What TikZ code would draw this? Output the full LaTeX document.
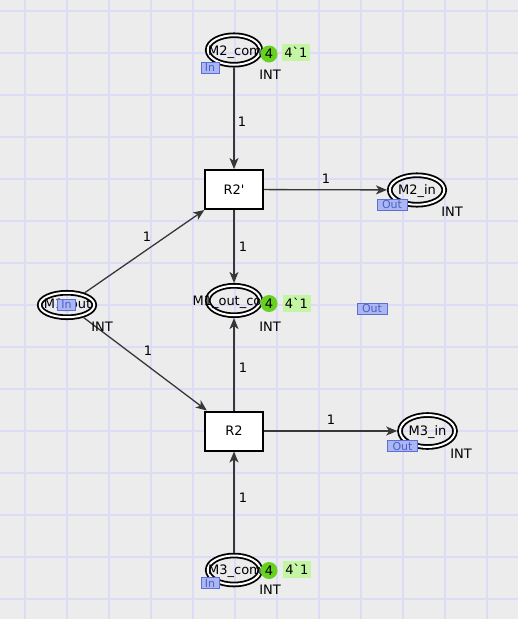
\documentclass[tikz,border=0pt]{standalone}
\usepackage{fontspec}
\setmainfont{DejaVu Sans}[Ligatures=TeXOff]
\usetikzlibrary{shapes.geometric,arrows.meta}
\definecolor{bgcol}{RGB}{236,236,236}
\definecolor{gridcol}{RGB}{220,220,246}
\definecolor{arccol}{RGB}{55,55,55}
\definecolor{tagfill}{RGB}{172,182,242}
\definecolor{tagdraw}{RGB}{90,112,216}
\definecolor{tagtext}{RGB}{74,96,200}
\definecolor{tokgreen}{RGB}{102,209,31}
\definecolor{markgreen}{RGB}{196,245,164}
\tikzset{
  gridline/.style={gridcol, line width=2pt},
  place/.style={ellipse, draw=black, line width=1.8pt, double=white, double distance=2pt,
    inner sep=0pt, outer sep=2.8pt},
  trans/.style={rectangle, draw=black, line width=2pt, fill=white, minimum width=58pt,
    minimum height=39pt, inner sep=0pt},
  arc/.style={arccol, line width=1.3pt, -{Stealth[length=11pt,width=9pt,inset=3pt]}},
  arclabel/.style={inner sep=0pt, text=black},
  ptag/.style={rectangle, draw=tagdraw, fill=tagfill, text=tagtext, line width=0.9pt,
    inner sep=0pt, minimum height=11pt, font=\fontsize{11}{12}\selectfont},
  token/.style={circle, fill=tokgreen, minimum size=17pt, inner sep=0pt},
  marking/.style={rectangle, fill=markgreen, minimum height=17pt, minimum width=28pt, inner sep=0pt},
  typelabel/.style={inner sep=0pt, text=black},
  namelabel/.style={inner sep=0pt, text=black},
}
\begin{document}
\begin{tikzpicture}[x=1pt, y=-1pt, font=\fontsize{13}{15}\selectfont]
  % background and grid
  \fill[bgcol] (0,0) rectangle (518,619);
  \useasboundingbox (0,0) rectangle (518,619);
  \foreach \i in {0,...,11} \draw[gridline] ({25+42*\i},0) -- ({25+42*\i},619);
  \foreach \j in {0,...,14} \draw[gridline] (0,{10.7+42*\j}) -- (518,{10.7+42*\j});

  % places
  \node[place, minimum width=52.5pt, minimum height=29.5pt] (M2com) at (234,50) {};
  \node[place, minimum width=54.5pt, minimum height=29.5pt] (M2in) at (417,190) {};
  \node[place, minimum width=54.5pt, minimum height=24.5pt] (M1out) at (67,305) {};
  \node[place, minimum width=52.5pt, minimum height=29.5pt] (M1conf) at (234,300.5) {};
  \node[place, minimum width=55pt, minimum height=32pt] (M3in) at (427.5,431) {};
  \node[place, minimum width=52.5pt, minimum height=29pt] (M3com) at (234,570) {};

  % transitions
  \node[trans] (R2p) at (234,189.5) {R2'};
  \node[trans] (R2) at (234,431) {R2};

  % arcs
  \draw[arc] (M2com) -- (R2p);
  \draw[arc] (R2p) -- (M2in);
  \draw[arc] (R2p) -- (M1conf);
  \draw[arc] (M1out) -- (R2p);
  \draw[arc] (M1out) -- (R2);
  \draw[arc] (R2) -- (M1conf);
  \draw[arc] (R2) -- (M3in);
  \draw[arc] (M3com) -- (R2);

  % arc inscriptions
  \node[arclabel] (l1) at (242,122) {1};
  \node[arclabel] (l2) at (326,179) {1};
  \node[arclabel] (l3) at (243,247) {1};
  \node[arclabel] (l4) at (147,237) {1};
  \node[arclabel] (l5) at (148,351) {1};
  \node[arclabel] (l6) at (243,368) {1};
  \node[arclabel] (l7) at (331,420) {1};
  \node[arclabel] (l8) at (243,498) {1};

  % place names
  \node[namelabel] (n1) at (235,52) {M2\_com};
  \node[namelabel] (n2) at (417,191.5) {M2\_in};
  \node[namelabel] (n3) at (67.5,305) {M1\_out};
  \node[namelabel] (n4) at (227,302) {M1\_out\_co};
  \node[namelabel] (n5) at (427.5,432) {M3\_in};
  \node[namelabel] (n6) at (235,571) {M3\_com};

  % types
  \node[typelabel] (t1) at (270,75) {INT};
  \node[typelabel] (t2) at (452,212) {INT};
  \node[typelabel] (t3) at (102,327) {INT};
  \node[typelabel] (t4) at (270,327) {INT};
  \node[typelabel] (t5) at (461,454) {INT};
  \node[typelabel] (t6) at (270,590) {INT};

  % port tags
  \node[ptag, minimum width=18pt] (g1) at (210,67.5) {In};
  \node[ptag, minimum width=30pt] (g2) at (392,204.5) {Out};
  \node[ptag, minimum width=18pt] (g3) at (66.5,304.5) {In};
  \node[ptag, minimum width=30pt] (g4) at (372,308.5) {Out};
  \node[ptag, minimum width=30pt] (g5) at (402.5,446) {Out};
  \node[ptag, minimum width=18pt] (g6) at (210,583) {In};

  % tokens and markings
  \node[token] (k1) at (269,54) {4};
  \node[marking] (m1) at (296,52.5) {4`1};
  \node[token] (k2) at (269,303.5) {4};
  \node[marking] (m2) at (296.5,303) {4`1};
  \node[token] (k3) at (269,570.5) {4};
  \node[marking] (m3) at (297,569.5) {4`1};
\end{tikzpicture}
\end{document}
